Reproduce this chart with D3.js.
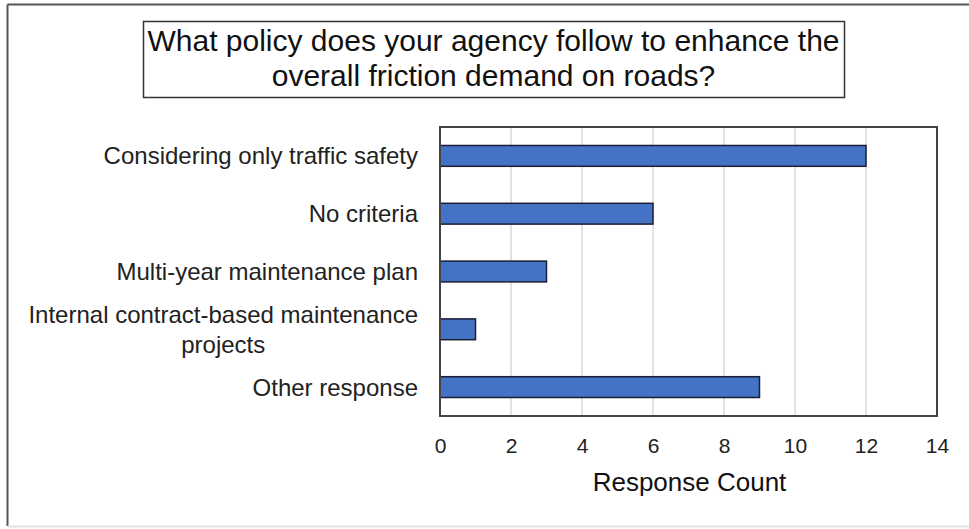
<!DOCTYPE html>
<html>
<head>
<meta charset="utf-8">
<script src="https://cdn.jsdelivr.net/npm/d3@7"></script>
<style>
  html, body { margin: 0; padding: 0; background: #fff; }
  svg { display: block; font-family: "Liberation Sans", Arial, sans-serif; }
</style>
</head>
<body>
<svg id="chart" width="969" height="529"></svg>
<script>
// Survey question and answers
const titleLines = [
  "What policy does your agency follow to enhance the",
  "overall friction demand on roads?"
];
const categories = [
  ["Considering only traffic safety"],
  ["No criteria"],
  ["Multi-year maintenance plan"],
  ["Internal contract-based maintenance", "projects"],
  ["Other response"]
];
const counts = [12, 6, 3, 1, 9];
const xTicks = [0, 2, 4, 6, 8, 10, 12, 14];
const xTitle = "Response Count";

const svg = d3.select("#chart");
const W = 969, H = 529;

// Outer frame
svg.append("line").attr("x1", 7.5).attr("x2", W).attr("y1", 4.5).attr("y2", 4.5)
  .attr("stroke", "#555").attr("stroke-width", 2);
svg.append("line").attr("x1", 7.5).attr("x2", 7.5).attr("y1", 4.5).attr("y2", 526)
  .attr("stroke", "#555").attr("stroke-width", 2);
svg.append("line").attr("x1", 7.5).attr("x2", W).attr("y1", 526.5).attr("y2", 526.5)
  .attr("stroke", "#e4e4e4").attr("stroke-width", 2);

// Title box
const tb = { x: 143, y: 21, w: 701, h: 76 };
svg.append("rect").attr("x", tb.x + 0.5).attr("y", tb.y + 0.5)
  .attr("width", tb.w).attr("height", tb.h)
  .attr("fill", "#fff").attr("stroke", "#333").attr("stroke-width", 1.5);
svg.append("g").selectAll("text").data(titleLines).join("text")
  .attr("x", tb.x + tb.w / 2)
  .attr("y", (d, i) => 51 + i * 35)
  .attr("text-anchor", "middle")
  .attr("font-size", 30)
  .attr("fill", "#111")
  .text(d => d);

// Plot area
const m = { left: 440, right: 937, top: 127, bottom: 416 };
const x = d3.scaleLinear().domain([0, 14]).range([m.left, m.right]);
const y = d3.scaleBand().domain(d3.range(categories.length))
  .range([m.top, m.bottom]).paddingInner(0.64).paddingOuter(0.32);

// Vertical gridlines
svg.append("g").selectAll("line").data(xTicks.slice(1, -1)).join("line")
  .attr("x1", d => x(d)).attr("x2", d => x(d))
  .attr("y1", m.top).attr("y2", m.bottom)
  .attr("stroke", "#d9d9d9").attr("stroke-width", 1.5);

// Bars
svg.append("g").selectAll("rect").data(counts).join("rect")
  .attr("x", x(0))
  .attr("y", (d, i) => y(i))
  .attr("width", d => x(d) - x(0))
  .attr("height", y.bandwidth())
  .attr("fill", "#4472c4")
  .attr("stroke", "#1a1f33").attr("stroke-width", 1.5);

// Plot border
svg.append("rect").attr("x", m.left).attr("y", m.top)
  .attr("width", m.right - m.left).attr("height", m.bottom - m.top)
  .attr("fill", "none").attr("stroke", "#444").attr("stroke-width", 2);

// X axis tick labels
const xAxis = d3.axisBottom(x).tickValues(xTicks).tickSize(0).tickPadding(22);
const gx = svg.append("g").attr("transform", `translate(0,${m.bottom})`).call(xAxis);
gx.select(".domain").remove();
gx.selectAll("text").attr("font-size", 21).attr("fill", "#222")
  .attr("font-family", "Liberation Sans, Arial, sans-serif");

svg.append("text").attr("x", (m.left + m.right) / 2 + 1).attr("y", 491)
  .attr("text-anchor", "middle").attr("font-size", 26).attr("fill", "#111")
  .text(xTitle);

// Category labels: multi-line labels are centred within their block, block right-aligned
const labelRight = 418, lineGap = 30;
const lg = svg.append("g");
categories.forEach((lines, i) => {
  const cy = y(i) + y.bandwidth() / 2;
  const g = lg.append("g");
  const t = g.selectAll("text").data(lines).join("text")
    .attr("y", (d, j) => cy + (j - (lines.length - 1) / 2) * lineGap)
    .attr("dy", "0.35em")
    .attr("font-size", 24)
    .attr("fill", "#222")
    .text(d => d);
  const widths = t.nodes().map(n => n.getComputedTextLength());
  const maxW = d3.max(widths);
  t.attr("text-anchor", "middle").attr("x", labelRight - maxW / 2);
});
</script>
</body>
</html>
